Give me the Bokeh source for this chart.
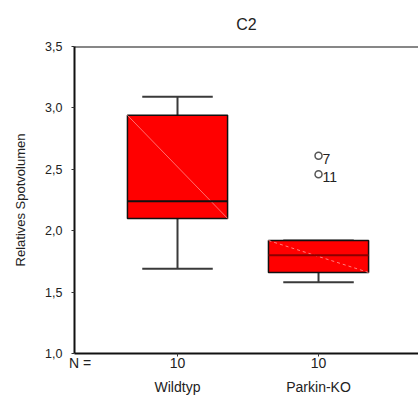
from bokeh.plotting import figure
from bokeh.models import Range1d, LinearAxis, FixedTicker, Span
from bokeh.embed import file_html
from bokeh.resources import INLINE
from bokeh.core.properties import value

# ---- data ----
categories = ["Wildtyp", "Parkin-KO"]
n_labels = ["10", "10"]
n_caption = "N ="
positions = [1, 2]
whisker_low = [1.69, 1.58]
q1 = [2.10, 1.66]
median = [2.24, 1.80]
q3 = [2.94, 1.92]
whisker_high = [3.09, 1.92]
outlier_pos = [2, 2]
outlier_values = [2.61, 2.46]
outlier_ids = ["7", "11"]
y_ticks = [1.0, 1.5, 2.0, 2.5, 3.0, 3.5]
y_tick_labels = ["1,0", "1,5", "2,0", "2,5", "3,0", "3,5"]

FONT = "Liberation Sans"
BOX_HALF = 0.355
CAP_HALF = 0.25
N_CAPTION_X = 0.31

p = figure(width=418, height=405, output_backend="svg", toolbar_location=None,
           x_range=Range1d(0.2695, 2.709), y_range=Range1d(1.0, 3.5),
           title="C2", min_border_left=74, min_border_top=45,
           min_border_bottom=52, min_border_right=0)
p.outline_line_color = None
p.xgrid.visible = False
p.ygrid.visible = False
p.background_fill_color = "white"
p.border_fill_color = "white"

p.title.align = "center"
p.title.text_font = FONT
p.title.text_font_size = "16px"
p.title.text_font_style = "normal"
p.title.text_color = "#222222"
p.title.standoff = 27

# y axis
ya = p.yaxis[0]
ya.ticker = FixedTicker(ticks=y_ticks)
ya.major_label_overrides = {t: l for t, l in zip(y_ticks, y_tick_labels)}
ya.axis_line_width = 2
ya.axis_line_color = "#111111"
ya.major_tick_in = 0
ya.major_tick_out = 3
ya.major_tick_line_color = "#333333"
ya.minor_tick_line_color = None
ya.major_label_text_font = FONT
ya.major_label_text_font_size = "12.5px"
ya.major_label_text_color = "#222222"
ya.major_label_standoff = 9
ya.axis_label = "Relatives Spotvolumen"
ya.axis_label_text_font = FONT
ya.axis_label_text_font_size = "13px"
ya.axis_label_text_font_style = "normal"
ya.axis_label_text_color = "#222222"
ya.axis_label_standoff = 14

# x axis line with ticks (no labels)
xa = p.xaxis[0]
xa.ticker = FixedTicker(ticks=positions)
xa.major_label_overrides = {t: "" for t in positions}
xa.axis_line_width = 2
xa.axis_line_color = "#111111"
xa.major_tick_in = 0
xa.major_tick_out = 3
xa.major_tick_line_color = "#333333"
xa.minor_tick_line_color = None
xa.major_label_text_font_size = "1px"
xa.major_label_standoff = 0

# x axis: N counts
n_ticks = [N_CAPTION_X] + positions
xa_n = LinearAxis(ticker=FixedTicker(ticks=n_ticks),
                  major_label_overrides={t: l for t, l in zip(n_ticks, [n_caption] + n_labels)})
xa_n.axis_line_color = None
xa_n.major_tick_line_color = None
xa_n.minor_tick_line_color = None
xa_n.major_label_text_font = FONT
xa_n.major_label_text_font_size = "14px"
xa_n.major_label_text_color = "#222222"
xa_n.major_label_standoff = -8
p.add_layout(xa_n, "below")

# x axis: category names
xa2 = LinearAxis(ticker=FixedTicker(ticks=positions),
                 major_label_overrides={t: l for t, l in zip(positions, categories)})
xa2.axis_line_color = None
xa2.major_tick_line_color = None
xa2.minor_tick_line_color = None
xa2.major_label_text_font = FONT
xa2.major_label_text_font_size = "14px"
xa2.major_label_text_color = "#222222"
xa2.major_label_standoff = -1
p.add_layout(xa2, "below")

# top frame line
p.add_layout(Span(location=3.5, dimension="width", line_color="#111111", line_width=2))

left = [x - BOX_HALF for x in positions]
right = [x + BOX_HALF for x in positions]

# whiskers
p.segment(x0=positions, y0=whisker_high, x1=positions, y1=q3, line_color="#3a3a3a", line_width=2)
p.segment(x0=positions, y0=whisker_low, x1=positions, y1=q1, line_color="#3a3a3a", line_width=2)
p.segment(x0=[x - CAP_HALF for x in positions], y0=whisker_high,
          x1=[x + CAP_HALF for x in positions], y1=whisker_high, line_color="#3a3a3a", line_width=2)
p.segment(x0=[x - CAP_HALF for x in positions], y0=whisker_low,
          x1=[x + CAP_HALF for x in positions], y1=whisker_low, line_color="#3a3a3a", line_width=2)

# boxes
p.quad(left=left, right=right, bottom=q1, top=q3, fill_color="#ff0000",
       line_color="#111111", line_width=1.5)

# faint diagonals
p.segment(x0=left[:1], y0=q3[:1], x1=right[:1], y1=q1[:1], line_color="#ff7070", line_width=1)
p.segment(x0=left[1:], y0=q3[1:], x1=right[1:], y1=q1[1:], line_color="#ff8080",
          line_width=1, line_dash="3 3")

# medians
p.segment(x0=left[:1], y0=median[:1], x1=right[:1], y1=median[:1], line_color="#111111", line_width=2)
p.segment(x0=left[1:], y0=median[1:], x1=right[1:], y1=median[1:], line_color="#8b0000", line_width=2)

# outliers
p.scatter(x=outlier_pos, y=outlier_values, marker="circle", size=7, fill_color=None,
          line_color="#555555", line_width=1.5)
p.text(x=outlier_pos, y=outlier_values, text=outlier_ids, x_offset=4, y_offset=3,
       text_baseline="middle", text_align="left", text_font=value(FONT),
       text_font_size="14px", text_color="#222222")

open("out.html", "w").write(file_html(p, INLINE))
